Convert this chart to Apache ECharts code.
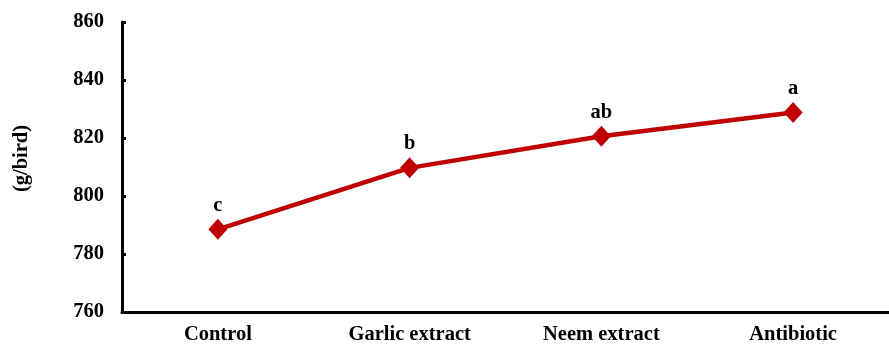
<!DOCTYPE html>
<html><head><meta charset="utf-8">
<script src="https://cdn.jsdelivr.net/npm/echarts@6/dist/echarts.min.js"></script>
<style>html,body{margin:0;padding:0;background:#fff}#c{width:889px;height:345px}</style>
</head><body><div id="c"></div>
<script>
const categories = ['Control', 'Garlic extract', 'Neem extract', 'Antibiotic'];
const values = [788.5, 809.7, 820.6, 828.8];
const letters = ['c', 'b', 'ab', 'a'];
const yTicks = [760, 780, 800, 820, 840, 860];
const yName = '(g/bird)';

const font = 'Liberation Serif';
const chart = echarts.init(document.getElementById('c'));
chart.setOption({
  animation: false,
  grid: {left: 122, right: 0, top: 22, bottom: 31, containLabel: false},
  xAxis: {
    type: 'category', data: categories, boundaryGap: true,
    axisLine: {lineStyle: {color: '#000', width: 3}},
    axisTick: {inside: true, length: 5, lineStyle: {color: '#000', width: 2}},
    axisLabel: {color: '#000', fontFamily: font, fontWeight: 'bold', fontSize: 20.5, margin: 12}
  },
  yAxis: {
    type: 'value', min: yTicks[0], max: yTicks[yTicks.length - 1], interval: 20,
    name: yName, nameLocation: 'middle', nameGap: 90, nameRotate: 90,
    nameTextStyle: {color: '#000', fontFamily: font, fontWeight: 'bold', fontSize: 20.5, padding: [0, 0, 0, 17]},
    axisLine: {show: true, lineStyle: {color: '#000', width: 3}},
    axisTick: {show: true, inside: true, length: 4, lineStyle: {color: '#000', width: 3}},
    splitLine: {show: false},
    axisLabel: {color: '#000', fontFamily: font, fontWeight: 'bold', fontSize: 20.5, margin: 18}
  },
  series: [{
    type: 'line', data: values,
    lineStyle: {color: '#C00000', width: 4.5},
    itemStyle: {color: '#C00000'},
    symbol: 'diamond', symbolSize: [19, 21],
    label: {show: true, position: 'top', distance: 3,
      formatter: p => letters[p.dataIndex],
      color: '#000', fontFamily: font, fontWeight: 'bold', fontSize: 20.5}
  }]
});
</script></body></html>
